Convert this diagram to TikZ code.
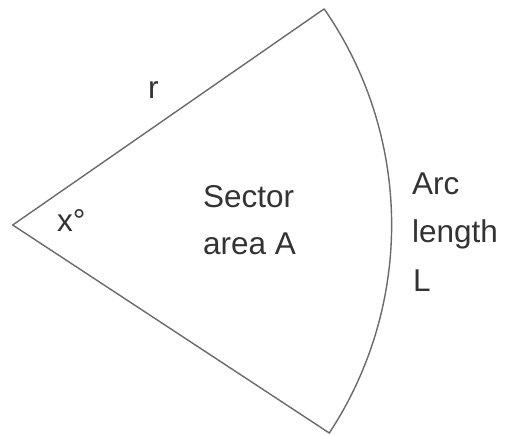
\documentclass[tikz,border=0pt]{standalone}
\usepackage{fontspec}
\setmainfont{Liberation Sans}
\definecolor{linegray}{HTML}{6A6A6A}
\definecolor{textgray}{HTML}{333333}
\begin{document}
\begin{tikzpicture}[x=1pt,y=-1pt,
  edge/.style={draw=linegray, line width=1.4pt, line join=miter},
  lbl/.style={inner sep=0pt, anchor=base west, text=textgray, font=\fontsize{31.5}{40}\selectfont}]
\useasboundingbox (0,0) rectangle (507,435);
\coordinate (C) at (12.7,225);
\coordinate (T) at (324,9);
\coordinate (B) at (329.3,433);
\draw[edge] (T) -- (C) -- (B) arc[start angle=33.33, end angle=-34.76, radius=379];
\node[lbl] (r) at (148,99) {r};
\node[lbl] (x) at (57,232) {x°};
\node[lbl] (s1) at (203,208) {Sector};
\node[lbl] (s2) at (203,255) {area A};
\node[lbl] (a1) at (412,195) {Arc};
\node[lbl] (a2) at (412,243) {length};
\node[lbl] (a3) at (413,292) {L};
\end{tikzpicture}
\end{document}
